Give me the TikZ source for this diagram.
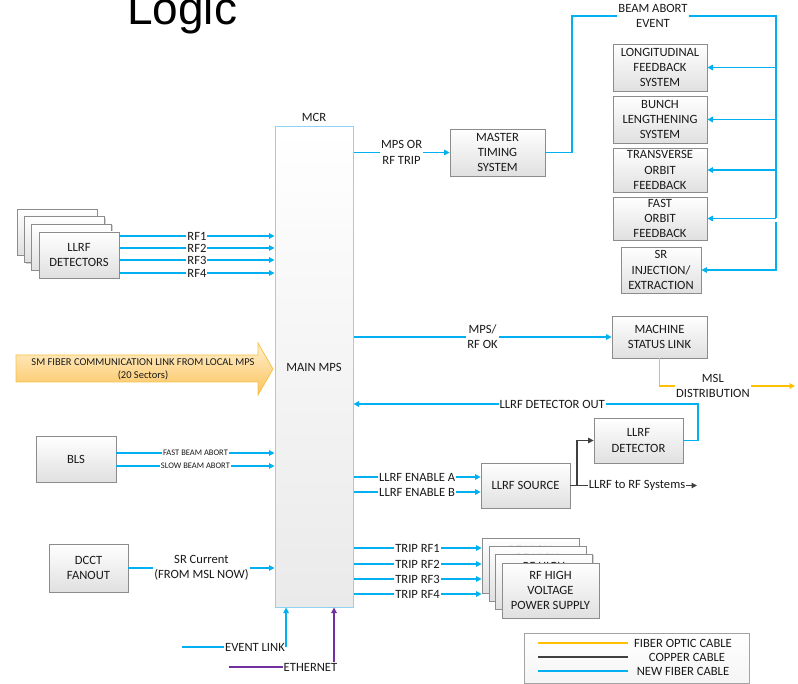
\documentclass[tikz,border=0pt]{standalone}
\usepackage{fontspec}
\setmainfont{Carlito}
\newfontfamily\headfont{Liberation Sans}
\usetikzlibrary{arrows.meta,shadows}

\definecolor{fiberblue}{HTML}{00B0F0}
\definecolor{fibergold}{HTML}{FFC000}
\definecolor{ethpurple}{HTML}{7030A0}
\definecolor{copper}{HTML}{404040}
\definecolor{boxedge}{HTML}{8C8C8C}
\definecolor{boxlow}{HTML}{E0E0E0}
\definecolor{mpsedge}{HTML}{8ED3F2}
\definecolor{mpslow}{HTML}{EAEAEA}
\definecolor{arrowtop}{HTML}{FFF1D0}
\definecolor{arrowlow}{HTML}{FCC25A}
\definecolor{arrowedge}{HTML}{F7C24A}
\definecolor{inkgray}{HTML}{1A1A1A}

\newcommand\lblfont{\fontsize{12.6}{15.3}\selectfont}
\newcommand\tinyfont{\fontsize{8.5}{10}\selectfont}
\newcommand\linkfont{\fontsize{10.5}{13}\selectfont}

\begin{document}
\begin{tikzpicture}[x=1pt,y=-1pt,
  every node/.style={font=\lblfont, align=center, inner sep=0pt, text=inkgray},
  unit/.style={draw=boxedge, line width=0.8pt, top color=white, bottom color=boxlow,
    drop shadow={shadow xshift=1.2pt, shadow yshift=-1.2pt, fill=black!35, opacity=0.5}},
  lbl/.style={fill=white, inner xsep=1pt, inner ysep=0.5pt},
  link/.style={line width=1.2pt},
  fib/.style={link, draw=fiberblue},
  fo/.style={link, draw=fibergold},
  cu/.style={link, draw=copper},
  eth/.style={link, draw=ethpurple},
  tip/.style={-{Triangle[length=5.5pt,width=5.5pt]}},
]
\useasboundingbox (0,0) rectangle (798,684);

% heading
\node[font=\headfont\fontsize{46}{46}\selectfont, anchor=base west, text=black] (title) at (127,25) {Logic};

% central protection system
\node[draw=mpsedge, line width=1pt, top color=white, bottom color=mpslow,
      minimum width=78, minimum height=480] (mps) at (314,367) {MAIN MPS};
\node (mcr) at (314,117) {MCR};

% timing and beam-abort receivers
\node[unit, minimum width=95, minimum height=47] (mts) at (497.5,152.5) {MASTER\\TIMING\\SYSTEM};
\node[unit, minimum width=94, minimum height=47] (lfb) at (660,67.5) {LONGITUDINAL\\FEEDBACK\\SYSTEM};
\node[unit, minimum width=94, minimum height=47] (blsys) at (660,119.5) {BUNCH\\LENGTHENING\\SYSTEM};
\node[unit, minimum width=94, minimum height=44] (tofb) at (660,170) {TRANSVERSE\\ORBIT\\FEEDBACK};
\node[unit, minimum width=94, minimum height=43] (fofb) at (660,218.5) {FAST\\ORBIT\\FEEDBACK};
\node[unit, minimum width=80, minimum height=46] (srinj) at (661,270) {SR\\INJECTION/\\EXTRACTION};

% LLRF detector stack
\node[unit, minimum width=80, minimum height=46] (llA) at (57,232) {};
\node[unit, minimum width=80, minimum height=46] (llB) at (64.3,239.7) {};
\node[unit, minimum width=80, minimum height=46] (llC) at (71.7,247.3) {};
\node[unit, minimum width=80, minimum height=46] (llrf) at (79,255) {LLRF\\DETECTORS};

% other sources on the left
\node[unit, minimum width=80, minimum height=46] (bls) at (76,459) {BLS};
\node[unit, minimum width=79, minimum height=48] (dcct) at (88.5,568) {DCCT\\FANOUT};

% right-hand systems
\node[unit, minimum width=95, minimum height=42] (msl) at (659.5,337) {MACHINE\\STATUS LINK};
\node[unit, minimum width=89, minimum height=45] (lldet) at (638.5,440.5) {LLRF\\DETECTOR};
\node[unit, minimum width=89, minimum height=45] (src) at (525.5,485.5) {LLRF SOURCE};

% RF high voltage power supply stack (only the top line of the rear cards peeks out)
\node[unit, minimum width=97, minimum height=55] (hvA) at (530.5,565.5) {RF HIGH\\\mbox{}\\\mbox{}};
\node[unit, minimum width=97, minimum height=55] (hvB) at (537.5,573.5) {RF HIGH\\\mbox{}\\\mbox{}};
\node[unit, minimum width=97, minimum height=55] (hvC) at (544,581.5) {RF HIGH\\\mbox{}\\\mbox{}};
\node[unit, minimum width=97, minimum height=55] (hvps) at (550.5,590.5) {RF HIGH\\VOLTAGE\\POWER SUPPLY};

% SM fiber link arrow
\path[draw=arrowedge, line width=0.8pt, top color=arrowtop, bottom color=arrowlow]
  (16,355) -- (258,355) -- (258,343) -- (273,369) -- (258,395) -- (258,382) -- (16,382) -- cycle;
\node[font=\linkfont] (smlink) at (143,369) {SM FIBER COMMUNICATION LINK FROM LOCAL MPS\\(20 Sectors)};

% routing points
\coordinate (baA) at (572,16);
\coordinate (baB) at (776,16);
\coordinate (srtap) at (776,222);
\coordinate (dout) at (698,404);
\coordinate (mslend) at (795,386);
\coordinate (cbr) at (577,485.5);
\coordinate (rfsys) at (697,485.5);
\coordinate (evs) at (182,647);
\coordinate (eths) at (229,667);
\coordinate (ethx) at (334,0);
\coordinate (fba) at (0,453);
\coordinate (sba) at (0,466);
\coordinate (ena) at (0,477);
\coordinate (enb) at (0,492);

% MPS trip to timing, beam abort event distribution
\draw[fib,tip] (mps.east |- mts.west) -- node[lbl]{MPS OR\\RF TRIP} (mts.west);
\draw[fib] (mts.east) -| (baA) -- node[lbl,pos=0.397]{BEAM ABORT\\EVENT} (baB) -- (baB |- fofb.east);
\foreach \b in {lfb,blsys,tofb,fofb}
  \draw[fib,tip] (baB |- \b.east) -- (\b.east);
\draw[fib,tip] (srtap) |- (srinj.east);

% LLRF detector inputs
\foreach \i/\yy in {1/236,2/248,3/260,4/273} {
  \coordinate (rf\i) at (0,\yy);
  \draw[fib,tip] (llrf.east |- rf\i) -- node[lbl]{RF\i} (mps.west |- rf\i);
}

% beam loss system
\draw[fib,tip] (bls.east |- fba) -- node[lbl,font=\tinyfont]{FAST BEAM ABORT} (mps.west |- fba);
\draw[fib,tip] (bls.east |- sba) -- node[lbl,font=\tinyfont]{SLOW BEAM ABORT} (mps.west |- sba);

% stored beam current
\draw[fib,tip] (dcct.east) -- node[lbl]{SR Current\\(FROM MSL NOW)} (mps.west |- dcct.east);

% event link and ethernet
\node[lbl] (evl) at (255,647) {EVENT LINK};
\draw[fib] (evs) -- (evl.west);
\draw[fib,tip] (evl.east) -- (evl.east |- mps.south);
\node[lbl] (ethl) at (310.5,667) {ETHERNET};
\draw[eth] (eths) -- (ethl.west);
\draw[eth,tip] (ethl.north -| ethx) -- (mps.south -| ethx);

% machine status link
\draw[fib,tip] (mps.east |- msl.west) -- node[lbl]{MPS/\\RF OK} (msl.west);
\draw[fo,tip] (msl.south) |- node[lbl,pos=0.697]{MSL\\DISTRIBUTION} (mslend);

% LLRF source and detector loop
\draw[fib,tip] (lldet.east) -| (dout) -- node[lbl,pos=0.423]{LLRF DETECTOR OUT} (mps.east |- dout);
\draw[fib,tip] (mps.east |- ena) -- node[lbl]{LLRF ENABLE A} (src.west |- ena);
\draw[fib,tip] (mps.east |- enb) -- node[lbl]{LLRF ENABLE B} (src.west |- enb);
\draw[cu] (src.east) -- (cbr);
\draw[cu,tip] (cbr) |- (lldet.west);
\draw[cu,tip] (cbr) -- node[lbl]{LLRF to RF Systems} (rfsys);

% RF trips
\foreach \i/\yy in {1/548,2/564,3/579,4/594} {
  \coordinate (trip\i) at (0,\yy);
  \draw[fib,tip] (mps.east |- trip\i) -- node[lbl]{TRIP RF\i} (hvA.west |- trip\i);
}

% legend
\node[draw=boxedge!80, line width=0.8pt, top color=white, bottom color=black!4,
      minimum width=225, minimum height=50] (leg) at (636.5,658) {};
\coordinate (lgA1) at (538,643); \coordinate (lgA2) at (628,643);
\coordinate (lgB1) at (538,657); \coordinate (lgB2) at (628,657);
\coordinate (lgC1) at (538,671); \coordinate (lgC2) at (628,671);
\draw[draw=fibergold, line width=1.4pt] (lgA1) -- (lgA2);
\draw[draw=copper, line width=1.4pt] (lgB1) -- (lgB2);
\draw[draw=fiberblue, line width=1.4pt] (lgC1) -- (lgC2);
\node (legA) at (683,643) {FIBER OPTIC CABLE};
\node (legB) at (687,657) {COPPER CABLE};
\node (legC) at (683,671) {NEW FIBER CABLE};
\end{tikzpicture}
\end{document}
